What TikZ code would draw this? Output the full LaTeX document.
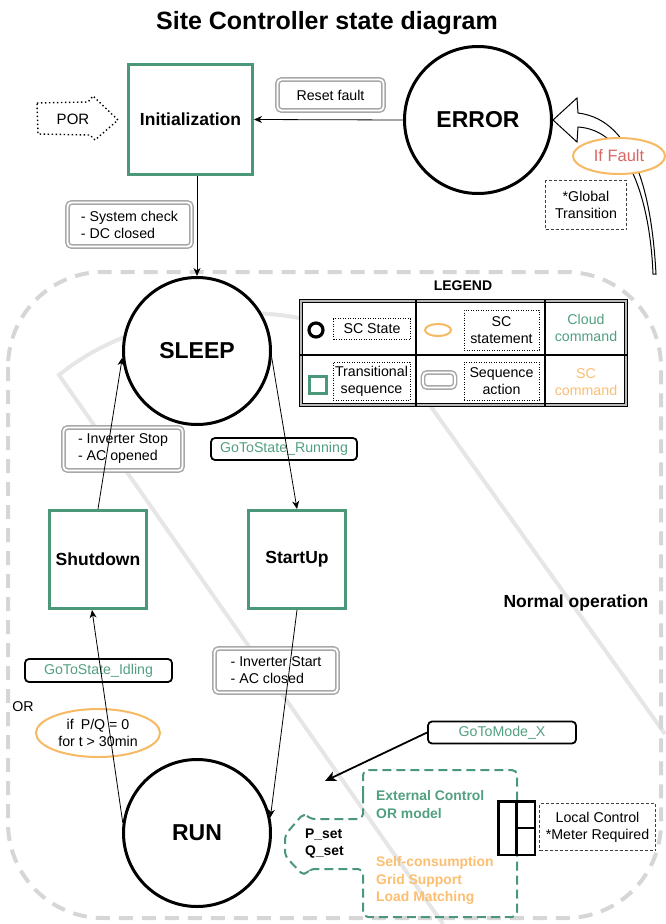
\documentclass[tikz,border=0pt]{standalone}
\usepackage{fontspec}
\setmainfont{Liberation Sans}
\usetikzlibrary{arrows.meta,shapes.geometric,calc}
\definecolor{stgreen}{RGB}{74,151,122}
\definecolor{txgreen}{RGB}{82,160,128}
\definecolor{storange}{RGB}{247,185,100}
\definecolor{txorange}{RGB}{252,190,112}
\definecolor{fred}{RGB}{218,102,102}
\definecolor{wmgrey}{RGB}{230,230,230}
\definecolor{dgrey}{RGB}{214,214,214}
\definecolor{seqgrey}{RGB}{168,168,168}
\newcommand\fsreg{\fontsize{14.2}{17}\selectfont}
\newcommand\fsbold{\bfseries\fontsize{13.9}{17.5}\selectfont}
\newcommand\fsstate{\bfseries\fontsize{23}{26}\selectfont}
\newcommand\fstrans{\bfseries\fontsize{17.5}{20}\selectfont}
\begin{document}
\begin{tikzpicture}[x=1pt,y=-1pt,
  every node/.style={inner sep=0pt},
  scstate/.style={circle, draw, line width=3pt, fill=white, minimum size=147pt, font=\fsstate},
  trans/.style={rectangle, draw=stgreen, line width=3pt, fill=white, font=\fstrans},
  seqbox/.style={draw=seqgrey, double=white, double distance=1.8pt, line width=1.5pt, rounded corners=4pt, fill=white, font=\fsreg, align=left},
  cmdbox/.style={draw=black, line width=1.8pt, rounded corners=4pt, fill=white, text=txgreen, font=\fsreg},
  stmt/.style={ellipse, draw=storange, line width=2pt, fill=white, font=\fsreg, align=center},
  dotbox/.style={draw, line width=0.8pt, dash pattern=on 0.9pt off 1.6pt, font=\fsreg, align=center},
  dashbox/.style={draw=black!75, line width=1pt, dash pattern=on 3pt off 2pt, fill=white, font=\fsreg, align=center},
  arr/.style={-{Stealth[length=8pt,width=7pt,inset=2.5pt]}, line width=0.8pt},
  bigarr/.style={-{Stealth[length=11pt,width=10pt,inset=3pt]}, line width=1.8pt},
]
\useasboundingbox (0,0) rectangle (665,924);

% faint watermark
\draw[wmgrey, line width=4pt] (443,924) -- (59,375) .. controls (150,300) and (340,280) .. (419,390) -- (665,734);
% normal operation area
\draw[dgrey, line width=4pt, dash pattern=on 14pt off 9pt, rounded corners=95pt] (8,272) rectangle (661,918);

% title
\node[font=\bfseries\fontsize{25}{28}\selectfont, anchor=base] (title) at (327,29) {Site Controller state diagram};

% global transition hollow arrow
\draw[line width=1pt, fill=white] (653,274) .. controls (650,200) and (628,130) .. (578,127) -- (577,142) -- (553,120) -- (577,98) -- (578,113) .. controls (636,120) and (652,200) .. (656,274) -- cycle;

% states and sequences
\node[trans, minimum width=124pt, minimum height=110pt] (init) at (190.5,119.5) {Initialization};
\node[scstate] (err) at (478,120) {ERROR};
\node[scstate] (sleep) at (197,351) {SLEEP};
\node[scstate] (run) at (197,833) {RUN};
\node[trans, minimum width=97pt, minimum height=98pt] (shut) at (98,559.5) {Shutdown};
\node[trans, minimum width=97pt, minimum height=98pt] (start) at (297,559.5) {StartUp};

% POR
\node[font=\fontsize{15}{18}\selectfont] (por) at (73,119) {POR};
\draw[line width=1.4pt, dash pattern=on 1.4pt off 2.6pt] (37,103) -- (88,102) -- (93,96) -- (118,120) -- (95,140) -- (90,135) -- (38,134) -- cycle;

% labels
\node[seqbox, minimum width=106pt, minimum height=31pt] (reset) at (330.5,95) {Reset fault};
\node[seqbox, minimum width=124pt, minimum height=44pt] (syscheck) at (129.5,224.5) {- System check\\- DC closed};
\node[seqbox, minimum width=119pt, minimum height=43pt] (invstop) at (123,449) {- Inverter Stop\\- AC opened};
\node[seqbox, minimum width=123pt, minimum height=44pt] (invstart) at (276,670.5) {- Inverter Start\\- AC closed};
\node[cmdbox, minimum width=146pt, minimum height=22pt] (gorun) at (284,449) {GoToState\_Running};
\node[cmdbox, minimum width=147pt, minimum height=23pt] (goidle) at (98.5,670.5) {GoToState\_Idling};
\node[cmdbox, minimum width=148pt, minimum height=22pt] (gmode) at (502,732.5) {GoToMode\_X};
\node[stmt, minimum width=92pt, minimum height=36pt, text=fred, font=\fontsize{16.5}{19}\selectfont] (iff) at (619,156) {If Fault};
\node[dashbox, minimum width=81pt, minimum height=49pt] (glob) at (586,205) {*Global\\Transition};
\node[font=\fsreg] (orl) at (23,707) {OR};
\node[stmt, minimum width=124pt, minimum height=48pt] (pqzero) at (98,733) {if\enspace P/Q = 0\\for t > 30min};
\node[font=\fstrans] (normal) at (576,603) {Normal operation};

% connectors
\draw[arr] (err.west) -- (init.east);
\draw[arr] (init.south -| sleep.north) -- (sleep.north);
\draw[arr] (shut.north) -- (sleep.185);
\draw[arr] (sleep.-5) -- (start.north);
\draw[arr] (run.172) -- ($(shut.south)+(-6,0)$);
\draw[arr] (start.south) -- (run.12);
\coordinate (gmt) at (325,781);
\draw[bigarr] (gmode.west) -- (gmt);

% setpoint sources shape
\draw[stgreen, line width=2pt, dash pattern=on 9pt off 5pt, rounded corners=5pt]
  (363,800) -- (363,770) -- (517,770) -- (517,917) -- (363,917) -- (363,869) -- (310,869) -- (304,876) -- (285,856) -- (285,835) -- (304,813) -- (310,819) -- (363,819) -- cycle;
\node[font=\fsbold, text=txgreen, align=left, anchor=west] (ext) at (376,804.5) {External Control\\OR model};
\node[font=\fsbold, align=left, anchor=west] (pqset) at (305,843.5) {P\_set\\Q\_set};
\node[font=\fsbold, text=txorange, align=left, anchor=west] (modes) at (376,880.5) {Self-consumption\\Grid Support\\Load Matching};

% local control block
\node[draw, line width=2.5pt, fill=white, minimum width=36.5pt, minimum height=53.5pt] (lcb) at (516.5,828) {};
\draw[line width=2.5pt] (lcb.north) -- (lcb.south);
\draw[line width=2.5pt] (lcb.center) -- (lcb.east);
\node[dashbox, minimum width=116pt, minimum height=47pt] (lct) at (597.5,827) {Local Control\\*Meter Required};

% legend
\node[font=\bfseries\fontsize{14}{17}\selectfont] (legt) at (463,286) {LEGEND};
\node[draw, double=gray!55, double distance=1.1pt, line width=1.3pt, fill=white, minimum width=325pt, minimum height=104pt] (leg) at (463.5,353) {};
\draw[line width=1.6pt] (300,355) -- (627,355);
\draw[line width=1.6pt] (416,300) -- (416,406);
\draw[line width=1.6pt] (545,300) -- (545,406);
\node[circle, draw, line width=3.2pt, minimum size=14pt] (lgcirc) at (316,330) {};
\node[dotbox, minimum width=77pt, minimum height=21pt] (lgstate) at (372,329) {SC State};
\node[ellipse, draw=storange, line width=2pt, minimum width=26pt, minimum height=12pt] (lgell) at (438,330) {};
\node[dotbox, minimum width=75pt, minimum height=40pt] (lgstmt) at (501.5,330) {SC\\statement};
\node[text=txgreen, font=\fsreg, align=center] (lgcloud) at (586,328) {Cloud\\command};
\node[draw=stgreen, line width=2.8pt, minimum size=17pt] (lgsq) at (318,385) {};
\node[dotbox, minimum width=77pt, minimum height=38pt] (lgtrans) at (371.5,381) {Transitional\\sequence};
\node[seqbox, minimum width=32pt, minimum height=15pt] (lgseq) at (439,380) {};
\node[dotbox, minimum width=75pt, minimum height=38pt] (lgact) at (501.5,381) {Sequence\\action};
\node[text=txorange, font=\fsreg, align=center] (lgsc) at (586,382) {SC\\command};
\end{tikzpicture}
\end{document}
